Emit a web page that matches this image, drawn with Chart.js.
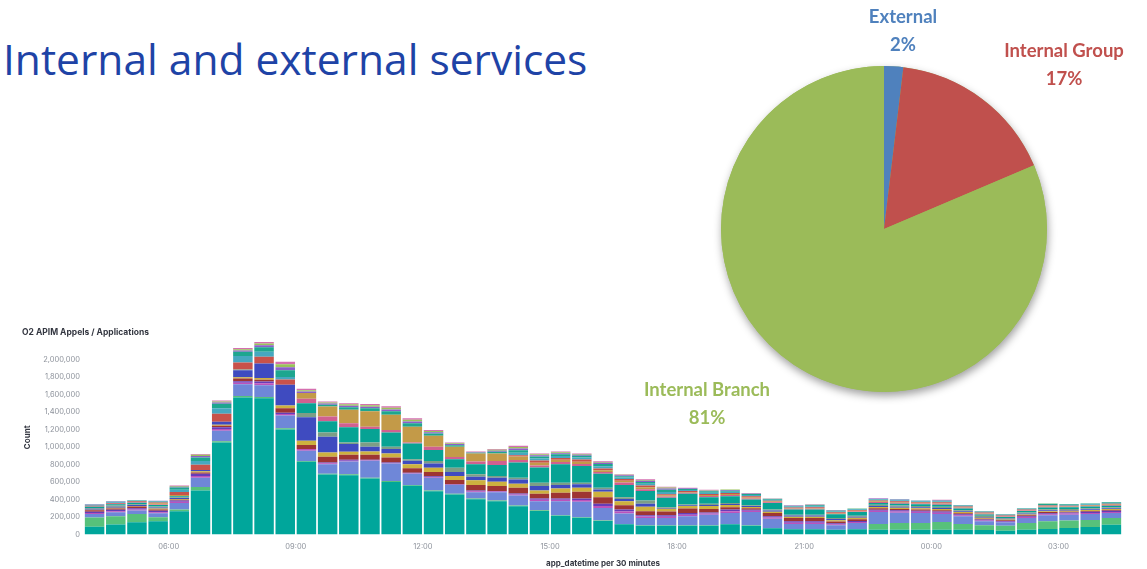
<!DOCTYPE html>
<html>
<head>
<meta charset="utf-8">
<script src="https://cdn.jsdelivr.net/npm/chart.js@4/dist/chart.umd.min.js"></script>
<style>
html,body{margin:0;padding:0;background:#fff;width:1147px;height:569px;overflow:hidden;}
#title{position:absolute;left:3px;top:38px;font-family:"Open Sans",sans-serif;font-size:42.5px;color:#1e43a6;white-space:nowrap;line-height:1;}
#barWrap{position:absolute;left:0;top:318px;width:1147px;height:251px;}
#pieWrap{position:absolute;left:600px;top:0;width:547px;height:440px;}
</style>
</head>
<body>
<div id="title">Internal and external services</div>
<div id="barWrap"><canvas id="bar"></canvas></div>
<div id="pieWrap"><canvas id="pie"></canvas></div>
<script>
// ---------- bar chart data (counts in thousands) ----------
const times = ["04:00","04:30","05:00","05:30","06:00","06:30","07:00","07:30","08:00","08:30",
  "09:00","09:30","10:00","10:30","11:00","11:30","12:00","12:30","13:00","13:30",
  "14:00","14:30","15:00","15:30","16:00","16:30","17:00","17:30","18:00","18:30",
  "19:00","19:30","20:00","20:30","21:00","21:30","22:00","22:30","23:00","23:30",
  "00:00","00:30","01:00","01:30","02:00","02:30","03:00","03:30","04:00"];
const xTickLabels = ["06:00","09:00","12:00","15:00","18:00","21:00","00:00","03:00"];
const yTickValues = [0,200000,400000,600000,800000,1000000,1200000,1400000,1600000,1800000,2000000];

const appA = [88,112,138,150,265,503,1050,1565,1555,1200,830,685,677,638,600,555,494,456,403,380,322,268,212,190,152,115,100,100,100,100,115,100,70,58,58,52,59,54,54,54,54,54,50,42,54,61,73,84,111];
const appB = [105,95,95,46,19,38,15,16,15,13,10,9,10,10,10,9,9,8,8,8,8,8,6,6,6,4,4,4,4,4,4,4,3,3,3,2,2,65,76,76,88,65,54,58,76,89,85,81,77];
const appC = [40,45,40,45,76,107,121,135,134,146,115,108,146,193,200,130,145,100,72,95,115,104,162,176,145,119,84,84,103,122,126,153,107,58,58,50,69,136,118,115,92,88,46,38,58,69,68,69,57];
const appD = [12,12,12,12,12,20,18,17,25,16,20,10,10,6,6,6,8,4,10,6,12,16,16,20,23,23,16,15,19,12,20,12,14,15,15,12,12,14,14,13,14,12,10,8,10,12,12,12,12];
const appE = [15,18,15,18,15,25,20,17,20,15,0,9,9,5,5,6,8,4,10,6,11,15,15,19,23,23,15,15,19,12,20,12,13,16,16,12,12,14,14,13,14,12,10,8,10,12,12,12,12];
const appF = [15,15,18,15,10,15,18,31,20,53,46,66,58,58,58,50,50,50,61,57,65,53,65,76,77,50,46,44,51,40,25,18,38,38,38,20,20,15,15,14,15,12,10,8,10,12,10,10,10];
const appG = [8,8,8,10,8,15,12,15,20,31,50,49,34,38,46,46,49,46,54,50,46,39,50,46,61,46,50,30,30,35,25,15,15,15,15,15,15,15,14,13,14,12,10,8,10,10,10,10,10];
const appH = [10,12,10,12,10,14,35,81,165,238,268,181,89,54,50,39,47,46,42,46,50,49,38,39,27,26,34,10,8,12,12,10,12,12,12,12,12,12,12,12,12,10,10,8,10,10,10,10,10];
const appI = [10,12,10,12,10,0,0,9,0,0,50,49,18,49,27,19,30,49,27,20,19,39,27,19,19,20,39,9,8,12,13,10,12,11,11,12,12,15,14,14,14,12,12,10,12,12,10,10,10];
const appJ = [12,15,15,15,10,0,0,0,0,0,111,127,173,154,164,180,124,97,115,126,173,173,211,192,161,138,107,107,122,77,77,65,76,58,58,42,42,20,20,20,22,20,15,12,18,20,20,20,18];
const appK = [5,6,6,8,5,0,0,0,0,0,51,54,46,27,28,11,38,26,31,46,30,25,25,22,20,30,20,15,12,12,12,12,8,8,8,8,8,10,10,10,10,8,8,6,6,8,6,6,8];
const appL = [0,0,0,12,10,0,0,0,0,0,64,115,154,176,173,181,126,116,92,85,40,30,25,25,20,20,25,15,10,12,12,12,8,8,8,8,8,8,8,8,8,6,6,5,6,6,6,6,6];
const appM = [8,10,12,10,35,58,89,79,77,58,0,0,0,0,0,0,0,0,0,0,15,25,20,25,20,18,20,12,10,12,12,12,10,8,10,8,8,10,10,8,10,8,8,6,6,8,6,6,8];
const appN = [7,8,6,8,25,45,65,73,57,30,0,0,0,0,0,0,0,0,0,0,27,25,25,25,25,18,20,25,12,15,15,15,10,10,12,10,8,10,10,8,10,8,8,6,8,8,8,8,10];
const appO = [5,6,6,6,25,40,51,50,51,77,0,20,30,34,40,40,25,18,8,20,30,22,20,18,25,15,20,25,12,15,12,12,8,8,10,8,5,8,8,6,8,6,6,5,6,12,9,9,9];
const appP = [5,6,0,6,10,15,14,15,22,35,18,14,18,18,22,20,15,12,6,12,20,14,12,12,15,10,14,15,7,8,8,6,4,4,6,5,2,5,4,4,6,4,2,2,0,2,0,0,0];
const appQ = [0,0,0,0,8,15,12,14,20,33,16,12,15,15,18,18,13,10,4,10,16,11,10,8,10,7,9,12,4,6,4,2,2,2,4,2,1,0,0,0,0,0,0,0,0,2,0,0,0];
const appR = [0,0,0,0,7,10,10,13,19,30,16,12,13,15,18,17,12,8,4,8,14,9,8,7,8,5,7,8,2,4,2,2,0,2,3,2,1,3,2,0,4,0,0,0,0,0,0,0,0];

const seriesValues = [appA,appB,appC,appD,appE,appF,appG,appH,appI,appJ,appK,appL,appM,appN,appO,appP,appQ,appR];
const seriesNames = ["app A","app B","app C","app D","app E","app F","app G","app H","app I","app J","app K","app L","app M","app N","app O","app P","app Q","app R"];
const seriesColors = ["#00a69b","#57c17b","#6f87d8","#bc52bc","#663db8","#9e3533","#cdb13f","#3f4bc0","#7d9e86",
  "#06a394","#d06090","#c39a48","#c8524a","#46a8c0","#1ea68f","#8b5fc9","#9ac25a","#d56fb0"];

// ---------- pie data ----------
const pieLabels = ["External","Internal Group","Internal Branch"];
const pieValues = [1.9,16.7,81.4];
const pieColors = ["#4f81bd","#c0504d","#9bbb59"];

// time -> hours on a continuous axis
const bucketHours = 0.5;
const hours = [];
let dayOffset = 0;
times.forEach((t,i)=>{
  let v = parseInt(t.slice(0,2),10) + parseInt(t.slice(3),10)/60 + dayOffset;
  if (i>0 && v < hours[i-1]) { dayOffset += 24; v += 24; }
  hours.push(v);
});
const xTickValues = xTickLabels.map(l => hours[times.indexOf(l)]);

const kFont = "Inter, 'DejaVu Sans', sans-serif";
const tickColor = "#8d929b";
const titleColor = "#343741";

new Chart(document.getElementById('bar'), {
  type: 'bar',
  data: {
    datasets: seriesValues.map((vals,k)=>({
      label: seriesNames[k],
      data: vals.map((v,i)=>({x: hours[i] + bucketHours/2, y: v*1000})),
      backgroundColor: seriesColors[k],
      borderWidth: 0,
      stack: 'apps',
      barPercentage: 1,
      categoryPercentage: 0.92
    }))
  },
  options: {
    responsive: true,
    maintainAspectRatio: false,
    animation: false,
    layout: {padding: {left: 22, right: 25, top: 0, bottom: 0}},
    plugins: {
      legend: {display: false},
      tooltip: {enabled: false},
      title: {display: true, text: 'O2 APIM Appels / Applications', align: 'start',
        font: {family: kFont, size: 8.5, weight: 'bold'}, color: titleColor, padding: {top: 9, bottom: 3}}
    },
    scales: {
      x: {
        type: 'linear', offset: false, min: hours[0], max: hours[hours.length-1] + bucketHours,
        grid: {display: false, drawTicks: false, tickLength: 0, offset: false}, border: {display: false},
        afterBuildTicks: s => { s.ticks = xTickValues.map(v => ({value: v})); },
        ticks: {callback: v => xTickLabels[xTickValues.indexOf(v)], font: {family: kFont, size: 7.5},
          color: tickColor, padding: 7.5, maxRotation: 0, autoSkip: false},
        title: {display: true, text: 'app_datetime per 30 minutes', font: {family: kFont, size: 8, weight: 'bold'},
          color: titleColor, padding: {top: 0, bottom: 1}}
      },
      y: {
        stacked: true, min: 0, max: 2220000,
        grid: {display: false, drawTicks: false, tickLength: 0}, border: {display: false},
        afterBuildTicks: s => { s.ticks = yTickValues.map(v => ({value: v})); },
        afterFit: s => { s.width = 62; },
        ticks: {callback: v => v.toLocaleString('en-US'), font: {family: kFont, size: 7.5}, color: tickColor, padding: 4},
        title: {display: true, text: 'Count', font: {family: kFont, size: 8, weight: 'bold'}, color: titleColor,
          padding: {top: 1, bottom: 0}}
      }
    }
  }
});

// ---------- pie ----------
const pieShadow = {
  id: 'pieShadow',
  beforeDatasetsDraw(chart) {
    const arc = chart.getDatasetMeta(0).data[0];
    if (!arc) return;
    const ctx = chart.ctx;
    ctx.save();
    ctx.shadowColor = 'rgba(0,0,0,0.38)';
    ctx.shadowBlur = 9;
    ctx.shadowOffsetX = 1;
    ctx.shadowOffsetY = 4;
    ctx.beginPath();
    ctx.arc(arc.x, arc.y, arc.outerRadius, 0, Math.PI*2);
    ctx.fillStyle = pieColors[2];
    ctx.fill();
    ctx.restore();
  }
};
const pieLabelPlugin = {
  id: 'pieLabelPlugin',
  afterDatasetsDraw(chart, args, opts) {
    const ctx = chart.ctx;
    const total = pieValues.reduce((a,b)=>a+b,0);
    ctx.save();
    ctx.textAlign = 'center';
    ctx.textBaseline = 'middle';
    ctx.font = "bold 18.5px Lato, 'Open Sans', sans-serif";
    pieLabels.forEach((lab,i)=>{
      const p = opts.positions[i];
      ctx.fillStyle = pieColors[i];
      ctx.fillText(lab, p.x, p.y);
      ctx.fillText(Math.round(pieValues[i]/total*100) + '%', p.x, p.y + 28);
    });
    ctx.restore();
  }
};
new Chart(document.getElementById('pie'), {
  type: 'pie',
  data: {labels: pieLabels, datasets: [{data: pieValues, backgroundColor: pieColors, borderWidth: 0}]},
  options: {
    responsive: true, maintainAspectRatio: false, animation: false,
    layout: {padding: {left: 121, right: 100, top: 66, bottom: 48}},
    plugins: {
      legend: {display: false}, tooltip: {enabled: false},
      pieLabelPlugin: {positions: [{x: 303, y: 17}, {x: 464, y: 51}, {x: 107, y: 390}]}
    }
  },
  plugins: [pieShadow, pieLabelPlugin]
});
</script>
</body>
</html>
